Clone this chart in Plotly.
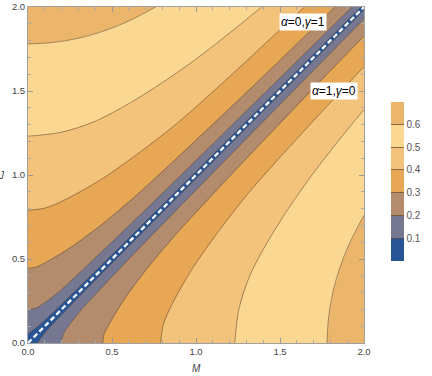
import plotly.graph_objects as go

# contour levels and the fill colour of each band (0-0.1, 0.1-0.2, ..., 0.6-0.7)
levels = [0.1, 0.2, 0.3, 0.4, 0.5, 0.6]
band_colors = ['#285596', '#767891', '#b28c6c', '#e8a755', '#f3c27b', '#fad892', '#ebb56c']

# contour lines read off the picture on the J > M side (left edge -> top edge)
# the J < M side is the same curve with M and J swapped
c01_M = [0, 0.055, 0.159, 0.387, 0.789, 1.29, 1.982]
c01_J = [0.055, 0.095, 0.191, 0.413, 0.811, 1.31, 2.0]

c02_M = [0, 0.05, 0.1, 0.19, 0.32, 0.5, 0.754, 1.1075, 1.4605, 1.928]
c02_J = [0.198, 0.209, 0.24, 0.31, 0.43, 0.6, 0.846, 1.1925, 1.5395, 2.0]

c03_M = [0, 0.05, 0.115, 0.27, 0.47, 0.685, 1.0475, 1.4065, 1.827]
c03_J = [0.445, 0.452, 0.485, 0.58, 0.73, 0.915, 1.2525, 1.5935, 2.0]

c04_M = [0, 0.1, 0.205, 0.43, 0.665, 0.89, 1.155, 1.415, 1.645]
c04_J = [0.79, 0.803, 0.845, 0.97, 1.135, 1.31, 1.545, 1.785, 2.0]

c05_M = [0, 0.2, 0.4, 0.6, 0.8, 1.0, 1.2, 1.39]
c05_J = [1.231, 1.255, 1.32, 1.425, 1.55, 1.69, 1.845, 2.0]

c06_M = [0, 0.15, 0.3, 0.45, 0.6, 0.76]
c06_J = [1.78, 1.789, 1.814, 1.857, 1.917, 2.0]

# the line J = M (dashed)
line_M = [0, 2]
line_J = [0, 2]

curves = [(c01_M, c01_J), (c02_M, c02_J), (c03_M, c03_J),
          (c04_M, c04_J), (c05_M, c05_J), (c06_M, c06_J)]

fig = go.Figure()

# filled regions f < level, from the largest level down
for i in reversed(range(len(levels))):
    m, j = curves[i]
    xs = m + [line_M[-1]] + j[::-1] + [line_M[0]]
    ys = j + [line_J[-1]] + m[::-1] + [line_J[0]]
    fig.add_trace(go.Scatter(x=xs, y=ys, mode='lines', fill='toself',
                             fillcolor=band_colors[i], line=dict(width=0),
                             hoverinfo='skip', showlegend=False))

# contour lines on both sides
for m, j in curves:
    for xs, ys in [(m, j), (j, m)]:
        fig.add_trace(go.Scatter(x=xs, y=ys, mode='lines',
                                 line=dict(color='rgba(95,72,50,0.6)', width=0.9, shape='spline'),
                                 hoverinfo='skip', showlegend=False))

fig.add_trace(go.Scatter(x=line_M, y=line_J, mode='lines',
                         line=dict(color='white', width=2.3, dash='5px,3px'),
                         hoverinfo='skip', showlegend=False))

# colour bar (dummy trace)
cs = []
for k, c in enumerate(band_colors):
    cs.append([k / 7, c])
    cs.append([(k + 1) / 7, c])
fig.add_trace(go.Scatter(
    x=[1], y=[1], mode='markers', hoverinfo='skip', showlegend=False,
    marker=dict(size=1, opacity=0, color=[0], cmin=0, cmax=0.7, colorscale=cs, showscale=True,
                colorbar=dict(x=1.08, xanchor='left', xpad=0, y=0.4815, yanchor='middle', ypad=0,
                              len=159, lenmode='pixels', thickness=13, outlinewidth=0,
                              tickvals=levels, tickformat='.1f', ticks='inside', ticklen=13,
                              tickcolor='rgba(90,70,50,0.7)',
                              tickfont=dict(size=10, color='#555')))))

axis = dict(range=[0, 2], tickvals=[0, 0.5, 1, 1.5, 2], tickformat='.1f', automargin=False,
            ticks='inside', ticklen=5, tickcolor='#999', showline=True, linecolor='#a0a0a0',
            linewidth=1, mirror='allticks', showgrid=False, zeroline=False,
            minor=dict(dtick=0.1, ticks='inside', ticklen=3, tickcolor='#aaa'),
            tickfont=dict(size=9.5, color='#444'))

fig.update_layout(
    width=432, height=376,
    margin=dict(l=28, r=68, t=7, b=33, autoexpand=False),
    paper_bgcolor='white', plot_bgcolor=band_colors[-1],
    font=dict(family='Liberation Sans, Arial, sans-serif'),
    xaxis=axis, yaxis=axis,
    annotations=[
        dict(text='<i>J</i>', x=-0.062, y=0.5, xref='paper', yref='paper', xanchor='right',
             showarrow=False, font=dict(size=10, color='#444')),
        dict(text='<i>M</i>', x=0.5, y=-0.077, xref='paper', yref='paper', yanchor='middle',
             showarrow=False, font=dict(size=10, color='#444')),
        dict(text='<i>α</i>=0,<i>γ</i>=1', x=1.639, y=1.908, showarrow=False, bgcolor='white',
             borderpad=1, font=dict(size=12, color='black')),
        dict(text='<i>α</i>=1,<i>γ</i>=0', x=1.821, y=1.503, showarrow=False, bgcolor='white',
             borderpad=1, font=dict(size=12, color='black')),
    ],
)

# the page has a default 8px body margin; drop it so the figure sits at the corner
fig.write_html('out.html', config={'displayModeBar': False},
               post_script="document.body.style.margin='0';")
